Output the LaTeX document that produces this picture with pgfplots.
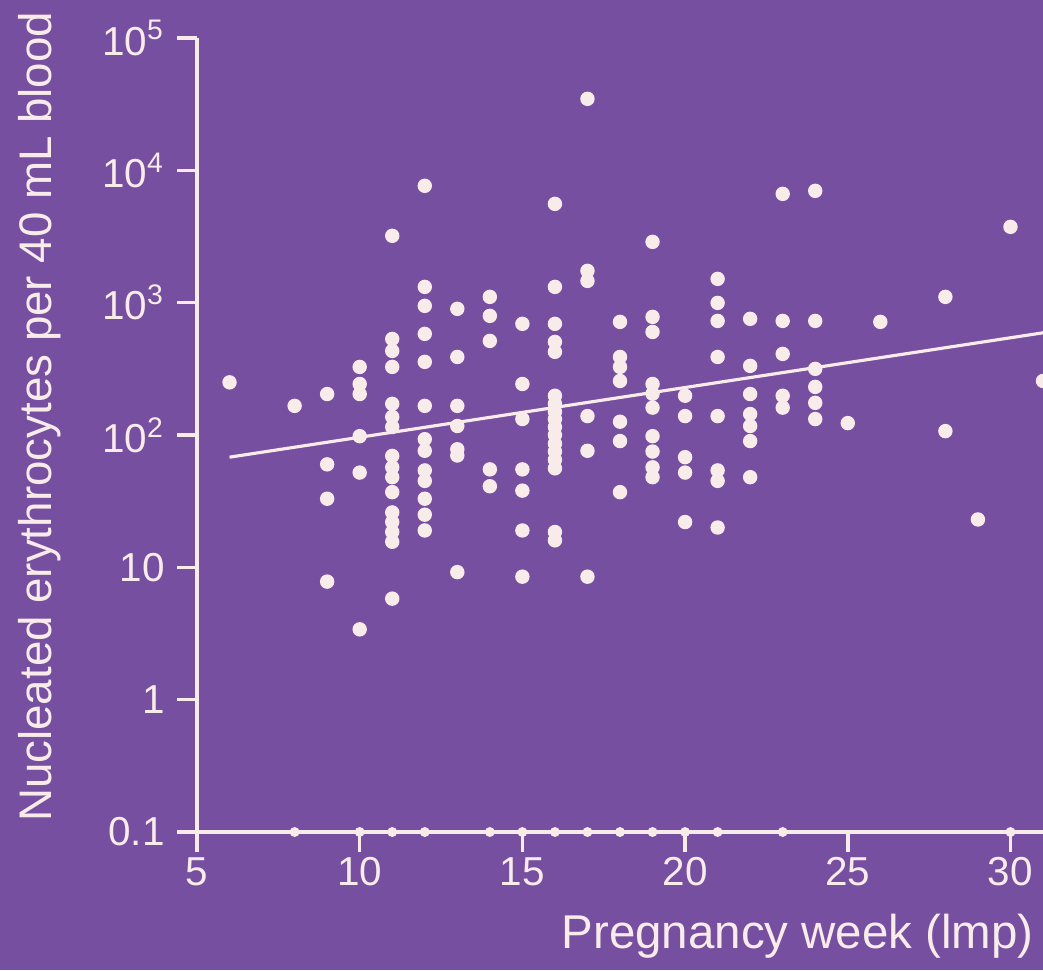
\documentclass[border=0pt]{standalone}
\usepackage{pgfplots}
\pgfplotsset{compat=1.18}
\usepackage{pgfplotstable}
\usepackage{fontspec}
\setmainfont{Liberation Sans}
\definecolor{bg}{RGB}{119,79,161}
\definecolor{fg}{RGB}{248,236,234}

\pgfplotstableread{
x y
6 250
8 166
9 204
9 60
9 33
9 7.8
10 327
10 243
10 204
10 98
10 52
10 3.4
11 3200
11 532
11 432
11 327
11 172
11 137
11 115
11 69.5
11 57
11 48
11 37
11 26
11 22
11 18.5
11 15.6
11 5.8
12 7640
12 1316
12 946
12 581
12 357
12 166
12 93
12 76
12 54
12 45
12 33
12 25
12 19
13 898
13 389
13 166
13 117
13 78
13 70
13 9.2
14 1106
14 795
14 514
14 55
14 41
15 692
15 243
15 132
15 55
15 38
15 19
15 8.5
16 5580
16 1316
16 692
16 505
16 425
16 198
16 172
16 150
16 132
16 115
16 100
16 86
16 75
16 65
16 56
16 18.5
16 16
17 34700
17 1740
17 1460
17 139
17 76
17 8.5
18 716
18 389
18 327
18 256
18 126
18 90
18 37
19 2880
19 781
19 601
19 243
19 205
19 161
19 98
19 75
19 57
19 48
20 198
20 139
20 68
20 52
20 22
21 1513
21 996
21 728
21 389
21 139
21 54
21 45
21 20
22 755
22 333
22 204
22 144
22 117
22 90
22 48
23 6640
23 728
23 410
23 198
23 161
24 7000
24 728
24 316
24 231
24 175
24 132
25 123
26 716
28 1106
28 107
29 23
30 3740
31 256
}\points

\pgfplotstableread{
x y
8 0.1
10 0.1
11 0.1
12 0.1
14 0.1
15 0.1
16 0.1
17 0.1
18 0.1
19 0.1
20 0.1
21 0.1
23 0.1
30 0.1
}\zeros

\begin{document}
\begin{tikzpicture}
\fill[bg] (0,0) rectangle (10.43cm,9.70cm);
\begin{axis}[
  at={(1.97cm,1.38cm)}, anchor=south west,
  scale only axis, width=8.46cm, height=7.94cm,
  xmin=5, xmax=31, ymin=0.1, ymax=1e5, ymode=log,
  axis x line*=bottom, axis y line*=left,
  axis line style={fg, line width=1.3pt},
  xtick={5,10,15,20,25,30}, xticklabels={5,10,15,20,25,30},
  ytick={0.1,1,10,100,1000,10000,100000},
  yticklabels={0.1,1,10,10\textsuperscript{2},10\textsuperscript{3},10\textsuperscript{4},10\textsuperscript{5}},
  minor tick num=0, yminorticks=false,
  tick align=outside, major tick length=0.2cm,
  tick style={fg, line width=1pt},
  ticklabel style={font=\fontsize{11.5}{13}\selectfont, text=fg},
  xticklabel style={yshift=0.07cm},
  xlabel={Pregnancy week (lmp)},
  ylabel={Nucleated erythrocytes per 40 mL blood},
  label style={text=fg},
  xlabel style={font=\fontsize{13.5}{15}\selectfont, at={(axis description cs:0.71,-0.131)}, anchor=center},
  ylabel style={font=\fontsize{13}{15}\selectfont, at={(axis description cs:-0.1856,0.523)}, anchor=center},
]
\addplot[fg, line width=0.9pt] coordinates {(6,68) (31,592)};
\addplot[only marks, mark=*, mark size=1.85pt, fg, mark options={draw=fg, fill=fg}] table[x=x,y=y] {\points};
\addplot[only marks, mark=*, mark size=1.2pt, fg, mark options={draw=fg, fill=fg}] table[x=x,y=y] {\zeros};
\end{axis}
\pgfresetboundingbox
\path[use as bounding box] (0,0) rectangle (10.43cm,9.70cm);
\end{tikzpicture}
\end{document}
